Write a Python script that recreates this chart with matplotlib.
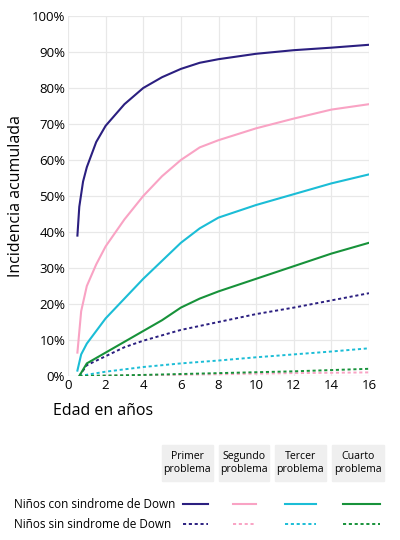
import matplotlib.pyplot as plt
from matplotlib.lines import Line2D
from matplotlib.patches import Rectangle

plt.rcParams['font.family'] = ['Open Sans', 'DejaVu Sans']

# Niños con síndrome de Down (solid)
x_p1 = [0.5, 0.6, 0.8, 1, 1.5, 2, 3, 4, 5, 6, 7, 8, 10, 12, 14, 16]
y_p1 = [39, 47, 54, 58, 65, 69.5, 75.5, 80, 83, 85.3, 87, 88, 89.5, 90.5, 91.2, 92]
x_p2 = [0.5, 0.7, 1, 1.5, 2, 3, 4, 5, 6, 7, 8, 10, 12, 14, 16]
y_p2 = [6.5, 18, 25, 31, 36, 43.5, 50, 55.5, 60, 63.5, 65.5, 68.8, 71.5, 74, 75.5]
x_p3 = [0.5, 0.7, 1, 2, 3, 4, 5, 6, 7, 8, 10, 12, 14, 16]
y_p3 = [1.5, 6, 9, 16, 21.5, 27, 32, 37, 41, 44, 47.5, 50.5, 53.5, 56]
x_p4 = [0.6, 1, 2, 3, 4, 5, 6, 7, 8, 10, 12, 14, 16]
y_p4 = [0, 3.5, 6.5, 9.5, 12.5, 15.5, 19, 21.5, 23.5, 27, 30.5, 34, 37]

# Niños sin síndrome de Down (dotted)
x_d1 = [0.6, 1, 2, 3, 4, 6, 8, 10, 12, 14, 16]
y_d1 = [0, 3, 5.5, 8, 9.8, 12.8, 15, 17.2, 19, 21, 23]
x_d2 = [0.6, 4, 8, 12, 16]
y_d2 = [0, 0.2, 0.5, 0.8, 1.0]
x_d3 = [0.6, 2, 4, 6, 8, 10, 12, 14, 16]
y_d3 = [0, 1.2, 2.5, 3.5, 4.3, 5.2, 6, 6.8, 7.7]
x_d4 = [0.6, 4, 8, 12, 16]
y_d4 = [0, 0.3, 0.8, 1.3, 2]

colors = ['#2b1f80', '#f9a3c4', '#1bbdd6', '#17923a']
headers = ['Primer\nproblema', 'Segundo\nproblema', 'Tercer\nproblema', 'Cuarto\nproblema']
dots = (0, (1.6, 1.4))

fig = plt.figure(figsize=(4, 5.4), dpi=100)
ax = fig.add_axes([0.17, 0.3037, 0.7525, 0.6667])

solid = [(x_p1, y_p1), (x_p2, y_p2), (x_p3, y_p3), (x_p4, y_p4)]
dotted = [(x_d1, y_d1), (x_d2, y_d2), (x_d3, y_d3), (x_d4, y_d4)]
for (x, y), c in zip(dotted, colors):
    ax.plot(x, y, color=c, lw=1.4, ls=dots)
for (x, y), c in zip(solid, colors):
    ax.plot(x, y, color=c, lw=1.5)

ax.set_xlim(0, 16)
ax.set_ylim(0, 100)
ax.set_xticks(range(0, 17, 2))
ax.set_yticks(range(0, 101, 10))
ax.set_yticklabels([f'{v}%' for v in range(0, 101, 10)])
ax.tick_params(length=0, labelsize=9.5, pad=2)
ax.grid(color='#e8e8e8', lw=0.9)
ax.set_axisbelow(True)
for s in ax.spines.values():
    s.set_visible(False)
ax.set_ylabel('Incidencia acumulada', fontsize=11.5, labelpad=6)
fig.text(103 / 400, 1 - 411 / 540, 'Edad en años', fontsize=11.5, ha='center', va='center')

# custom legend table
col_x = [187, 244, 300, 358]
box_w = [51, 50, 51, 52]
for cx, w, h in zip(col_x, box_w, headers):
    fig.patches.append(Rectangle(((cx - w / 2) / 400, 1 - 481 / 540), w / 400, 36 / 540,
                                 transform=fig.transFigure, color='#efefef', zorder=0))
    fig.text(cx / 400, 1 - 463 / 540, h, fontsize=7.6, ha='center', va='center', linespacing=1.3)

fig.text(14 / 400, 1 - 504 / 540, 'Niños con sindrome de Down', fontsize=8.5, va='center')
fig.text(14 / 400, 1 - 524 / 540, 'Niños sin sindrome de Down', fontsize=8.5, va='center')
seg = [(183, 208), (233, 256), (285, 316), (343, 380)]
for (a, b), c in zip(seg, colors):
    fig.lines.append(Line2D([a / 400, b / 400], [1 - 504 / 540] * 2, transform=fig.transFigure,
                            color=c, lw=1.5))
    fig.lines.append(Line2D([a / 400, b / 400], [1 - 524 / 540] * 2, transform=fig.transFigure,
                            color=c, lw=1.4, ls=dots))

fig.savefig('out.png', dpi=100)
